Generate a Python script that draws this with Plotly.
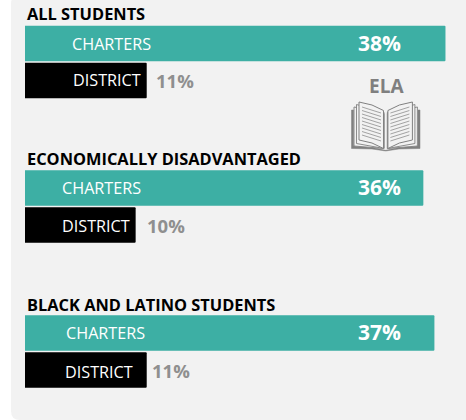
import plotly.graph_objects as go

# ---- data ----
groups = ["ALL STUDENTS", "ECONOMICALLY DISADVANTAGED", "BLACK AND LATINO STUDENTS"]
categories = ["CHARTERS", "DISTRICT"]
charters = [38, 36, 37]
district = [11, 10, 11]

# ---- layout constants ----
W, H = 466, 420
FONT = "Open Sans"
TEAL = "#3dafa4"
BLACK = "#000000"
PANEL = "#f2f2f2"
GREY = "#8f8f8f"
PX_PER_UNIT = 11.065
X0 = 25
group_tops = [25, 169.5, 314.5]
ROW = 37
title_pos = [14, 158, 304]
charter_label = [(111.7, 44), (101, 188), (105, 333)]
district_label = [(107, 79.5), (95.5, 225.5), (99, 372)]
charter_value = [(379.3, 42.8), (379.3, 187.3), (379.3, 332.3)]
district_value = [(175, 80.2), (166, 225.2), (171.3, 370.2)]


def fx(v):
    return v / W


def fy(v):
    return 1 - v / H


def path(points, close=True):
    s = "M" + " L".join(f"{fx(a):.5f},{fy(b):.5f}" for a, b in points)
    return s + (" Z" if close else "")


fig = go.Figure()
for i, g in enumerate(groups):
    name = "y" if i == 0 else f"y{i + 1}"
    fig.add_trace(go.Bar(
        y=categories, x=[charters[i], district[i]], orientation="h", xaxis="x", yaxis=name,
        marker=dict(color=[TEAL, BLACK], line=dict(width=0), cornerradius=1),
        name=g, showlegend=False, hoverinfo="x+y",
    ))

layout = dict(
    width=W, height=H, margin=dict(l=0, r=0, t=0, b=0),
    paper_bgcolor="#ffffff", plot_bgcolor="rgba(0,0,0,0)",
    bargap=0.04, showlegend=False,
    xaxis=dict(range=[-X0 / PX_PER_UNIT, (W - X0) / PX_PER_UNIT], visible=False, domain=[0, 1],
               anchor="y", fixedrange=True),
)
for i, top in enumerate(group_tops):
    key = "yaxis" if i == 0 else f"yaxis{i + 1}"
    layout[key] = dict(
        domain=[fy(top + 2 * ROW), fy(top)], visible=False, type="category",
        categoryorder="array", categoryarray=categories, autorange="reversed",
        anchor="x", fixedrange=True,
    )
fig.update_layout(**layout)


def note(text, x, y, size, color, bold=False, anchor="center"):
    fig.add_annotation(
        text=f"<b>{text}</b>" if bold else text, x=fx(x), y=fy(y), xref="paper", yref="paper",
        showarrow=False, xanchor=anchor, yanchor="middle",
        font=dict(family=FONT, size=size, color=color),
    )


for i, g in enumerate(groups):
    note(g, 25, title_pos[i], 16.4, "#000000", bold=True, anchor="left")
    note(categories[0], *charter_label[i], 16.2, "#ffffff")
    note(categories[1], *district_label[i], 16.2, "#ffffff")
    note(f"{charters[i]}%", *charter_value[i], 21, "#ffffff", bold=True)
    note(f"{district[i]}%", *district_value[i], 18.5, GREY, bold=True)
note("ELA", 386.3, 86, 19, "#7f7f7f", bold=True)

# ---- panel background ----
r = 9
panel = (f"M{fx(W + 5)},{fy(-5)} L{fx(11 + r)},{fy(-5)} "
         f"Q{fx(11)},{fy(-5)} {fx(11)},{fy(r - 5)} "
         f"L{fx(11)},{fy(420 - r)} Q{fx(11)},{fy(420)} {fx(11 + r)},{fy(420)} "
         f"L{fx(W + 5)},{fy(420)} Z")
shapes = [dict(type="path", path=panel, xref="paper", yref="paper", fillcolor=PANEL,
               line=dict(width=0), layer="below")]

# ---- book icon ----
BOOK = "#808080"
CX = 385.7


def mirror(pts):
    return [(2 * CX - a, b) for a, b in pts]


def add(pts, fill=PANEL, lw=1.0, color=BOOK):
    shapes.append(dict(type="path", path=path(pts), xref="paper", yref="paper",
                       fillcolor=fill, line=dict(width=lw, color=color), layer="above"))


def add_line(pts, lw=0.7, color=BOOK):
    shapes.append(dict(type="path", path=path(pts, close=False), xref="paper", yref="paper",
                       line=dict(width=lw, color=color), layer="above"))


cover = [(351.5, 110), (353.5, 110), (353.5, 146), (372, 147.5), (385.7, 150.3),
         (399.4, 147.5), (418, 146), (418, 110), (420, 110), (420, 148.5), (399, 149),
         (385.7, 151), (372, 149), (351.5, 148.5)]
add(cover, fill=BOOK, lw=0.5)
for dx, dy in [(-5, 5), (-2.5, 2.5)]:
    page = [(359 + dx, 102 + dy), (384, 111 + dy * 0.5), (384, 148.5),
            (359 + dx, 141 + dy)]
    add(page, lw=0.9)
    add(mirror(page), lw=0.9)
left = [(359, 102), (372, 105), (383.5, 110.5), (383.5, 148.5), (372, 143), (359, 140)]
add(left, lw=1)
add(mirror(left), lw=1)
for k in range(9):
    a = (362, 107 + k * 3.5)
    b = (381, 113 + k * 3.5)
    add_line([a, b])
    add_line(mirror([a, b]))

fig.update_layout(shapes=shapes)
fig.write_html("out.html", config=dict(displayModeBar=False),
               post_script="document.body.style.margin='0';document.body.style.overflow='hidden';")
